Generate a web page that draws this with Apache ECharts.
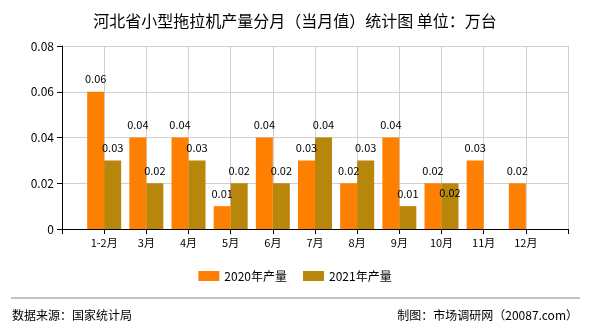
<!DOCTYPE html>
<html>
<head>
<meta charset="utf-8">
<style>
  html, body { margin: 0; padding: 0; background: #fff; }
  #chart { width: 590px; height: 330px; }
</style>
<script src="https://cdn.jsdelivr.net/npm/echarts@6/dist/echarts.min.js"></script>
</head>
<body>
<div id="chart"></div>
<script>
// Monthly small tractor output in Hebei (unit: 10k sets)
const months = ['1-2月', '3月', '4月', '5月', '6月', '7月', '8月', '9月', '10月', '11月', '12月'];
const output2020 = [0.06, 0.04, 0.04, 0.01, 0.04, 0.03, 0.02, 0.04, 0.02, 0.03, 0.02];
const output2021 = [0.03, 0.02, 0.03, 0.02, 0.02, 0.04, 0.03, 0.01, 0.02, null, null];
const yTicks = [0, 0.02, 0.04, 0.06, 0.08];
const seriesNames = ['2020年产量', '2021年产量'];

// Padding slots at both ends so the month ticks sit between the two bars
const cats = [''].concat(months, ['']);
const pad = arr => [null].concat(arr, [null]);

const FONT = '"Noto Sans CJK SC", "DejaVu Sans", sans-serif';
const fmt = v => (v === 0 ? '0' : v.toFixed(2));

const chart = echarts.init(document.getElementById('chart'));

const baseLabel = {
  show: true,
  position: 'top',
  distance: 7,
  color: '#000',
  fontSize: 11,
  fontFamily: FONT,
  formatter: p => (p.value == null ? '' : fmt(p.value))
};

// 10月 2021 label is pushed down to keep clear of its neighbour
const data2021 = pad(output2021).map((v, i) =>
  i === 9 ? { value: v, label: { position: 'insideTop', distance: 4 } } : v
);

chart.setOption({
  animation: false,
  backgroundColor: '#fff',
  title: {
    text: '河北省小型拖拉机产量分月（当月值）统计图 单位：万台',
    left: 'center',
    top: 8,
    textStyle: { fontSize: 16, fontWeight: 'normal', color: '#000', fontFamily: FONT }
  },
  grid: { left: 62, right: 22, top: 46, bottom: 101 },
  legend: {
    bottom: 43,
    left: 'center',
    itemWidth: 21,
    itemHeight: 10,
    itemGap: 16,
    icon: 'rect',
    textStyle: { fontSize: 12, color: '#000', fontFamily: FONT },
    data: seriesNames
  },
  xAxis: {
    type: 'category',
    data: cats,
    boundaryGap: false,
    axisLine: { lineStyle: { color: '#000', width: 1 } },
    axisTick: { show: true, interval: 0, length: 5, lineStyle: { color: '#000' } },
    axisLabel: { interval: 0, color: '#000', fontSize: 11, fontFamily: FONT, margin: 8 },
    splitLine: { show: true, interval: 0, lineStyle: { color: '#d0d0d0' } }
  },
  yAxis: {
    type: 'value',
    min: yTicks[0],
    max: yTicks[yTicks.length - 1],
    interval: yTicks[1] - yTicks[0],
    axisLine: { show: true, lineStyle: { color: '#000', width: 1 } },
    axisTick: { show: true, length: 5, lineStyle: { color: '#000' } },
    axisLabel: { color: '#000', fontSize: 12, fontFamily: FONT, margin: 8, formatter: fmt },
    splitLine: { show: true, lineStyle: { color: '#d0d0d0' } }
  },
  series: [
    {
      name: seriesNames[0],
      type: 'bar',
      data: pad(output2020),
      barWidth: 17,
      barGap: '0%',
      itemStyle: { color: '#ff8000' },
      label: baseLabel
    },
    {
      name: seriesNames[1],
      type: 'bar',
      data: data2021,
      barWidth: 17,
      barGap: '0%',
      itemStyle: { color: '#b8860b' },
      label: baseLabel
    }
  ],
  graphic: [
    {
      type: 'line',
      shape: { x1: 11, y1: 298, x2: 580, y2: 298 },
      style: { stroke: '#888', lineWidth: 1 }
    },
    {
      type: 'text',
      left: 12,
      top: 309,
      style: { text: '数据来源：国家统计局', fontSize: 12, fill: '#000', fontFamily: FONT }
    },
    {
      type: 'text',
      right: 12,
      top: 309,
      style: { text: '制图：市场调研网（20087.com）', fontSize: 12, fill: '#000', fontFamily: FONT }
    }
  ]
});
</script>
</body>
</html>
